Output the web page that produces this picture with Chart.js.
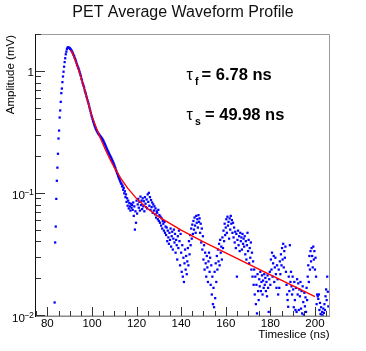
<!DOCTYPE html>
<html><head><meta charset="utf-8">
<script src="https://cdn.jsdelivr.net/npm/chart.js@4"></script>
<style>html,body{margin:0;padding:0;background:#fff;overflow:hidden}#wrap{width:366px;height:351px;position:relative}</style>
</head><body><div id="wrap"><canvas id="c" width="366" height="351"></canvas></div>
<script>
// ---- data ----
const timeStart = 83.25;   // ns, first sample shown
const timeStep = 0.25;     // ns, sampling interval
const amplitude = [
0.0129,0.040,0.054,0.091,0.128,0.164,0.213,0.284,0.330,0.422,0.482,0.567,0.668,0.729,0.822,0.914,1.00,1.10,1.20,1.29,
1.39,1.46,1.53,1.57,1.58,1.58,1.57,1.56,1.54,1.52,1.50,1.47,1.44,1.41,1.37,1.34,1.30,1.27,1.23,1.19,
1.15,1.12,1.085,1.06,1.025,0.99,0.955,0.925,0.88,0.855,0.815,0.79,0.765,0.74,0.705,0.68,0.66,0.63,0.61,0.585,
0.565,0.545,0.52,0.50,0.48,0.46,0.44,0.425,0.41,0.395,0.383,0.37,0.358,0.35,0.34,0.333,0.326,0.319,0.314,0.309,
0.305,0.30,0.296,0.292,0.288,0.284,0.279,0.274,0.268,0.262,0.256,0.25,0.244,0.238,0.232,0.226,0.222,0.217,0.212,0.207,
0.203,0.199,0.195,0.19,0.186,0.181,0.177,0.172,0.167,0.163,0.157,0.153,0.148,0.145,0.14,0.136,0.133,0.129,0.126,0.122,
0.121,0.115,0.117,0.108,0.112,0.101,0.105,0.094,0.099,0.086,0.092,0.080,0.088,0.076,0.084,0.079,0.073,0.083,0.077,0.081,
0.074,0.085,0.066,0.079,0.051,0.072,0.058,0.088,0.069,0.082,0.091,0.077,0.086,0.073,0.095,0.081,0.088,0.075,0.092,0.079,
0.087,0.072,0.094,0.083,0.078,0.090,0.076,0.099,0.086,0.102,0.080,0.094,0.074,0.089,0.078,0.085,0.070,0.082,0.073,0.079,
0.068,0.076,0.064,0.072,0.070,0.062,0.074,0.060,0.067,0.058,0.065,0.055,0.063,0.052,0.060,0.057,0.050,0.059,0.048,0.054,
0.046,0.053,0.041,0.050,0.044,0.039,0.048,0.042,0.052,0.037,0.045,0.049,0.035,0.043,0.051,0.040,0.047,0.033,0.042,0.038,
0.029,0.045,0.036,0.050,0.041,0.026,0.047,0.033,0.023,0.038,0.021,0.030,0.019,0.027,0.035,0.024,0.031,0.022,0.028,0.036,
0.026,0.041,0.032,0.046,0.038,0.052,0.043,0.056,0.047,0.060,0.051,0.064,0.055,0.048,0.066,0.058,0.062,0.053,0.067,0.059,
0.063,0.048,0.057,0.040,0.052,0.035,0.045,0.029,0.038,0.024,0.033,0.027,0.021,0.031,0.025,0.019,0.028,0.033,0.023,0.030,
0.018,0.026,0.015,0.021,0.0125,0.017,0.0118,0.023,0.014,0.027,0.019,0.031,0.024,0.035,0.028,0.039,0.026,0.042,0.033,0.037,
0.029,0.044,0.036,0.050,0.041,0.057,0.046,0.053,0.062,0.048,0.065,0.055,0.059,0.043,0.063,0.051,0.066,0.057,0.061,0.048,
0.058,0.044,0.053,0.040,0.049,0.036,0.047,0.021,0.042,0.050,0.038,0.045,0.034,0.048,0.041,0.044,0.035,0.047,0.039,0.043,
0.037,0.045,0.032,0.041,0.029,0.038,0.048,0.034,0.042,0.027,0.036,0.030,0.040,0.024,0.033,0.021,0.028,0.018,0.024,0.015,
0.021,0.0125,0.018,0.0105,0.022,0.016,0.0135,0.020,0.0175,0.023,0.016,0.019,0.0215,0.015,0.0195,0.017,0.022,0.018,0.0205,0.016,
0.019,0.0145,0.0215,0.017,0.0108,0.020,0.023,0.018,0.029,0.024,0.033,0.021,0.027,0.031,0.019,0.025,0.030,0.022,0.017,0.026,
0.020,0.015,0.024,0.017,0.028,0.022,0.032,0.026,0.036,0.029,0.039,0.025,0.034,0.030,0.037,0.023,0.018,0.015,0.0135,0.0119,
0.021,0.016,0.038,0.019,0.023,0.0175,0.015,0.021,0.0165,0.0118,0.019,0.0135,0.0112,0.017,0.0108,0.020,0.015,0.0185,0.0112,0.0165,
0.0145,0.019,0.0115,0.016,0.0105,0.0175,0.013,0.0102,0.0155,0.012,0.0142,0.0108,0.017,0.0135,0.021,0.026,0.019,0.031,0.024,0.034,
0.028,0.036,0.031,0.025,0.037,0.029,0.034,0.024,0.030,0.021,0.0125,0.015,0.0145,0.0138,0.015,0.0112,0.0128,0.0104,0.0118,0.0102,
0.0108,0.0101,0.0115,0.0106,0.0125,0.0112,0.0145,0.0165,0.0135,0.021,0.0158,0.012
];
const fitTimes  = [90.5,91,92,93,94,95,96,97,98,99,100,102,104,106,108,110,113,116,120,125,130,140,150,160,170,180,190,200];
const fitValues = [1.50,1.46,1.32,1.18,1.04,0.91,0.79,0.68,0.585,0.50,0.431,0.345,0.2805,0.2312,0.1937,0.1649,0.1333,0.1114,0.0915,0.0756,0.0648,0.0505,0.0404,0.0329,0.0267,0.0217,0.0177,0.0144];
const xMajorTicks = [80,100,120,140,160,180,200];
const xMinorTicks = [75,85,90,95,105,110,115,125,130,135,145,150,155,165,170,175,185,190,195,205];
const yDecadeTicks = [0.01,0.1,1];
const yDecadeLabels = [['10','\u22122'],['10','\u22121'],['1','']];
const yMinorTicks = [0.02,0.03,0.04,0.05,0.06,0.07,0.08,0.09,0.2,0.3,0.4,0.5,0.6,0.7,0.8,0.9,2];
const titleText = 'PET Average Waveform Profile';
const xTitle = 'Timeslice (ns)';
const yTitle = 'Amplitude (mV)';
const tauSymbol = '\u03C4';
const tauLines = [['f','= 6.78 ns'],['s','= 49.98 ns']];

// ---- chart ----
const FONT = '"Liberation Sans", Arial, Helvetica, sans-serif';
const points = amplitude.map((v,i)=>({x: timeStart + i*timeStep, y: v}));
const fitPoints = fitTimes.map((t,i)=>({x: t, y: fitValues[i]}));

const rootStyle = {
  id: 'rootStyle',
  afterDraw(chart){
    const {ctx, chartArea:a, scales:{x, y}} = chart;
    ctx.save();
    // frame
    ctx.strokeStyle = '#9a9a9a'; ctx.lineWidth = 1;
    ctx.beginPath();
    ctx.moveTo(a.left, a.top-0.5); ctx.lineTo(a.right+0.5, a.top-0.5);
    ctx.lineTo(a.right+0.5, a.bottom);
    ctx.stroke();
    ctx.strokeStyle = '#888'; ctx.lineWidth = 1.5;
    ctx.beginPath(); ctx.moveTo(a.left-0.5, a.bottom+0.25); ctx.lineTo(a.right+1, a.bottom+0.25); ctx.stroke();
    ctx.strokeStyle = '#111'; ctx.lineWidth = 1;
    ctx.beginPath(); ctx.moveTo(a.left-0.5, a.top-1); ctx.lineTo(a.left-0.5, a.bottom+1); ctx.stroke();
    // ticks
    ctx.strokeStyle = '#333'; ctx.lineWidth = 1;
    ctx.beginPath();
    xMajorTicks.forEach(v=>{const p=Math.round(x.getPixelForValue(v))+0.5; ctx.moveTo(p,a.bottom); ctx.lineTo(p,a.bottom-9);});
    xMinorTicks.forEach(v=>{const p=Math.round(x.getPixelForValue(v))+0.5; if(p>=a.left&&p<=a.right){ctx.moveTo(p,a.bottom); ctx.lineTo(p,a.bottom-5);}});
    yDecadeTicks.forEach(v=>{const p=Math.round(y.getPixelForValue(v))-0.5; ctx.moveTo(a.left,p); ctx.lineTo(a.left+9,p);});
    yMinorTicks.forEach(v=>{const p=Math.round(y.getPixelForValue(v))-0.5; ctx.moveTo(a.left,p); ctx.lineTo(a.left+5,p);});
    ctx.stroke();
    // x tick labels
    ctx.fillStyle = '#000';
    ctx.font = '11.5px ' + FONT; ctx.textAlign = 'center'; ctx.textBaseline = 'alphabetic';
    xMajorTicks.forEach(v=>{ctx.fillText(String(v), x.getPixelForValue(v), a.bottom+10.7);});
    // y tick labels with superscripts
    yDecadeTicks.forEach((v,i)=>{
      const p = y.getPixelForValue(v);
      const [base, sup] = yDecadeLabels[i];
      const right = a.left - 2;
      if(!sup){ ctx.font='11.6px '+FONT; ctx.textAlign='right'; ctx.fillText(base, right, p+4.2); return; }
      ctx.font='8.8px '+FONT; const sw = ctx.measureText(sup).width;
      ctx.textAlign='left'; ctx.fillText(sup, right-sw, p+1.5);
      ctx.font='11.6px '+FONT; ctx.textAlign='right'; ctx.fillText(base, right-sw+1, p+5.5);
    });
    // axis titles
    ctx.font = '11.5px ' + FONT; ctx.textAlign='right';
    ctx.fillText(xTitle, a.right+0.5, 337.5);
    ctx.save(); ctx.translate(13.8, a.top); ctx.rotate(-Math.PI/2);
    ctx.textAlign='right'; ctx.fillText(yTitle, 0, 0); ctx.restore();
    // title
    ctx.font = '16px ' + FONT; ctx.textAlign='center'; ctx.fillStyle='#111';
    ctx.fillText(titleText, chart.width/2, 16.8);
    // tau annotations
    ctx.fillStyle='#000'; ctx.textAlign='left';
    const tx = [201.5, 205], ty = [80, 120];
    tauLines.forEach((ln,i)=>{
      ctx.font = '16px ' + FONT; ctx.fillText(tauSymbol, 186.5, ty[i]);
      ctx.font = 'bold 10.5px ' + FONT; ctx.fillText(ln[0], 195, ty[i]+4.5);
      ctx.font = 'bold 16.5px ' + FONT; ctx.fillText(ln[1], tx[i], ty[i]);
    });
    ctx.restore();
  }
};

new Chart(document.getElementById('c'), {
  type: 'scatter',
  data: { datasets: [
    { label: 'waveform', data: points, pointStyle: 'rect', pointRadius: 1.6, pointBorderWidth: 0,
      backgroundColor: '#0000ff', borderColor: '#0000ff', showLine: false, order: 2 },
    { label: 'fit', type: 'line', data: fitPoints, borderColor: '#ff0000', borderWidth: 1.4,
      pointRadius: 0, tension: 0, fill: false, order: 1 }
  ]},
  options: {
    responsive: false, animation: false, devicePixelRatio: 1,
    layout: { padding: { top: 35, right: 37, left: 0, bottom: 0 } },
    plugins: { legend: {display:false}, title: {display:false}, tooltip: {enabled:false} },
    scales: {
      x: { type: 'linear', min: 74.9, max: 206.3,
           grid: {display:false}, border: {display:false}, ticks: {display:false},
           afterFit(s){ s.height = 35; } },
      y: { type: 'logarithmic', min: 0.01, max: 2.0,
           grid: {display:false}, border: {display:false}, ticks: {display:false},
           afterFit(s){ s.width = 36; } }
    }
  },
  plugins: [rootStyle]
});
</script>
</body></html>
